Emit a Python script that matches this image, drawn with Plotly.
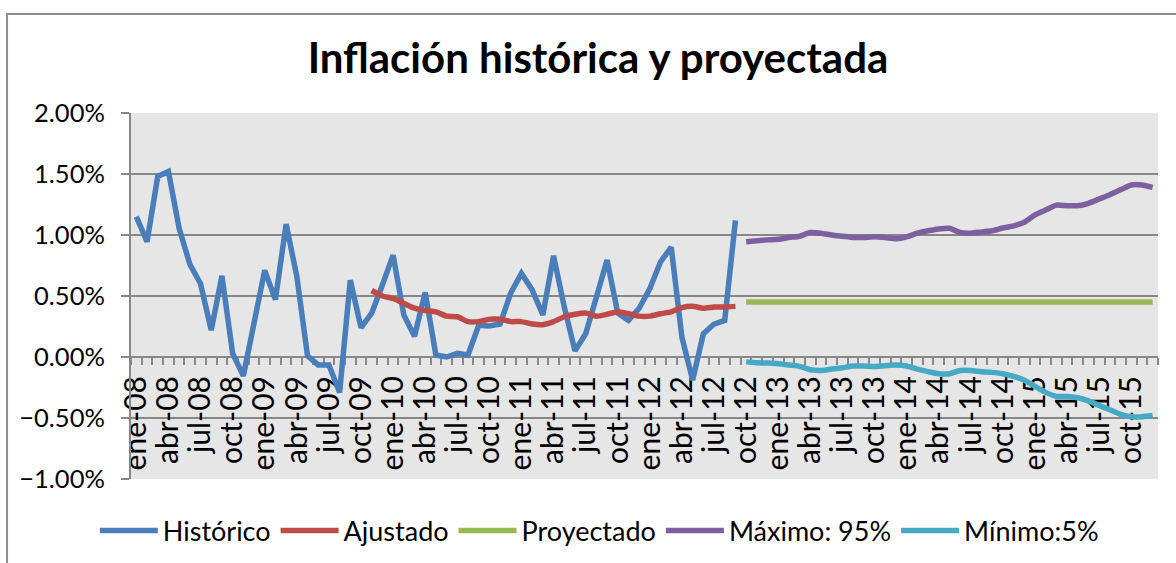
import plotly.graph_objects as go

meses = ["ene", "feb", "mar", "abr", "may", "jun", "jul", "ago", "sep", "oct", "nov", "dic"]
anios = ["08", "09", "10", "11", "12", "13", "14", "15"]
categorias = [f"{m}-{a}" for a in anios for m in meses]  # ene-08 .. dic-15

historico = [1.15, 0.945, 1.48, 1.52, 1.055, 0.76, 0.60, 0.22, 0.665, 0.03,
             -0.155, 0.28, 0.71, 0.47, 1.09, 0.66, 0.01, -0.065, -0.065, -0.29,
             0.63, 0.24, 0.36, 0.59, 0.835, 0.345, 0.17, 0.53, 0.016, 0.0,
             0.03, 0.016, 0.26, 0.255, 0.27, 0.525, 0.685, 0.55, 0.345, 0.83,
             0.41, 0.05, 0.19, 0.49, 0.795, 0.36, 0.30, 0.40, 0.56, 0.78,
             0.90, 0.16, -0.19, 0.19, 0.27, 0.30, 1.12]
ajustado = [0.545, 0.50, 0.48, 0.44, 0.40, 0.38, 0.37, 0.335, 0.33, 0.29,
            0.29, 0.31, 0.31, 0.29, 0.29, 0.27, 0.265, 0.29, 0.33, 0.35,
            0.36, 0.335, 0.35, 0.37, 0.355, 0.335, 0.335, 0.355, 0.37, 0.405,
            0.415, 0.40, 0.41, 0.41, 0.415]
proyectado_valor = 0.45
maximo = [0.945, 0.953, 0.96, 0.965, 0.98, 0.99, 1.02, 1.015, 1.00, 0.99,
          0.98, 0.98, 0.985, 0.98, 0.97, 0.985, 1.015, 1.035, 1.05, 1.055,
          1.02, 1.015, 1.025, 1.035, 1.057, 1.075, 1.105, 1.165, 1.205, 1.245,
          1.24, 1.24, 1.26, 1.295, 1.33, 1.37, 1.41, 1.41, 1.39]
minimo = [-0.04, -0.047, -0.05, -0.055, -0.066, -0.077, -0.104, -0.11, -0.099, -0.088,
          -0.074, -0.074, -0.077, -0.071, -0.066, -0.074, -0.099, -0.12, -0.137, -0.137,
          -0.11, -0.11, -0.12, -0.126, -0.137, -0.159, -0.19, -0.24, -0.29, -0.323,
          -0.323, -0.334, -0.36, -0.397, -0.433, -0.47, -0.49, -0.49, -0.48]

n_hist = len(historico)
x_hist = categorias[:n_hist]
x_aj = categorias[n_hist - len(ajustado):n_hist]
x_proj = categorias[n_hist:]
proyectado = [proyectado_valor] * len(x_proj)

ticktext = [c if i % 3 == 0 else "" for i, c in enumerate(categorias)]

FONT = "Lato"
lw = 5.5

fig = go.Figure()
fig.add_trace(go.Scatter(x=x_hist, y=historico, mode="lines", name="Histórico",
                         line=dict(color="#4a7ebb", width=lw)))
fig.add_trace(go.Scatter(x=x_aj, y=ajustado, mode="lines", name="Ajustado",
                         line=dict(color="#be4b48", width=lw, shape="spline", smoothing=0.5)))
fig.add_trace(go.Scatter(x=x_proj, y=proyectado, mode="lines", name="Proyectado",
                         line=dict(color="#98b954", width=lw)))
fig.add_trace(go.Scatter(x=x_proj, y=maximo, mode="lines", name="Máximo: 95%",
                         line=dict(color="#7d60a0", width=lw, shape="spline", smoothing=0.6)))
fig.add_trace(go.Scatter(x=x_proj, y=minimo, mode="lines", name="Mínimo:5%",
                         line=dict(color="#46aac5", width=lw, shape="spline", smoothing=0.6)))

fig.update_layout(
    width=1176, height=563,
    margin=dict(l=131, r=18, t=113, b=84, autoexpand=False),
    paper_bgcolor="white",
    plot_bgcolor="#e6e6e6",
    font=dict(family=FONT, color="#000000"),
    title=dict(text="<b>Inflación histórica y proyectada</b>",
               font=dict(family=FONT, size=42, color="#000000"),
               x=0.5085, xanchor="center", xref="container",
               y=1 - 58 / 563, yanchor="middle", yref="container"),
    showlegend=True,
    legend=dict(orientation="h", x=0.456, xanchor="center", y=-0.142, yanchor="middle",
                font=dict(family=FONT, size=27, color="#000000"),
                itemwidth=58, tracegroupgap=0, bgcolor="rgba(0,0,0,0)",
                traceorder="normal"),
    xaxis=dict(type="category", categoryorder="array", categoryarray=categorias,
               range=[-0.5, len(categorias) - 0.5],
               tickmode="array", tickvals=categorias, ticktext=ticktext,
               tickson="boundaries", ticks="outside", ticklen=7, tickwidth=1.5,
               tickcolor="#878787", tickangle=-90,
               tickfont=dict(family=FONT, size=30, color="#000000"),
               showline=True, linecolor="#878787", linewidth=2,
               showgrid=False, zeroline=False, automargin=False,
               anchor="free", position=1 / 3, layer="below traces",
               ticklabelstandoff=6),
    yaxis=dict(range=[-1, 2], tickmode="linear", tick0=-1, dtick=0.5,
               tickformat=".2f", ticksuffix="%",
               tickfont=dict(family=FONT, size=25.5, color="#000000"),
               ticks="outside", ticklen=8, tickwidth=1.5, tickcolor="#878787",
               showline=True, linecolor="#878787", linewidth=2,
               showgrid=True, gridcolor="#878787", gridwidth=2,
               zeroline=False, automargin=False, ticklabelstandoff=11),
)

# outer chart border
fig.add_shape(type="rect", xref="paper", yref="paper",
              x0=-0.1207, x1=1.03, y0=-0.3, y1=1.2705,
              line=dict(color="#8c8c8c", width=2), fillcolor="rgba(0,0,0,0)", layer="below")

fig.write_html("out.html", config={"displayModeBar": False},
               post_script="document.body.style.margin='0';document.body.style.overflow='hidden';")
